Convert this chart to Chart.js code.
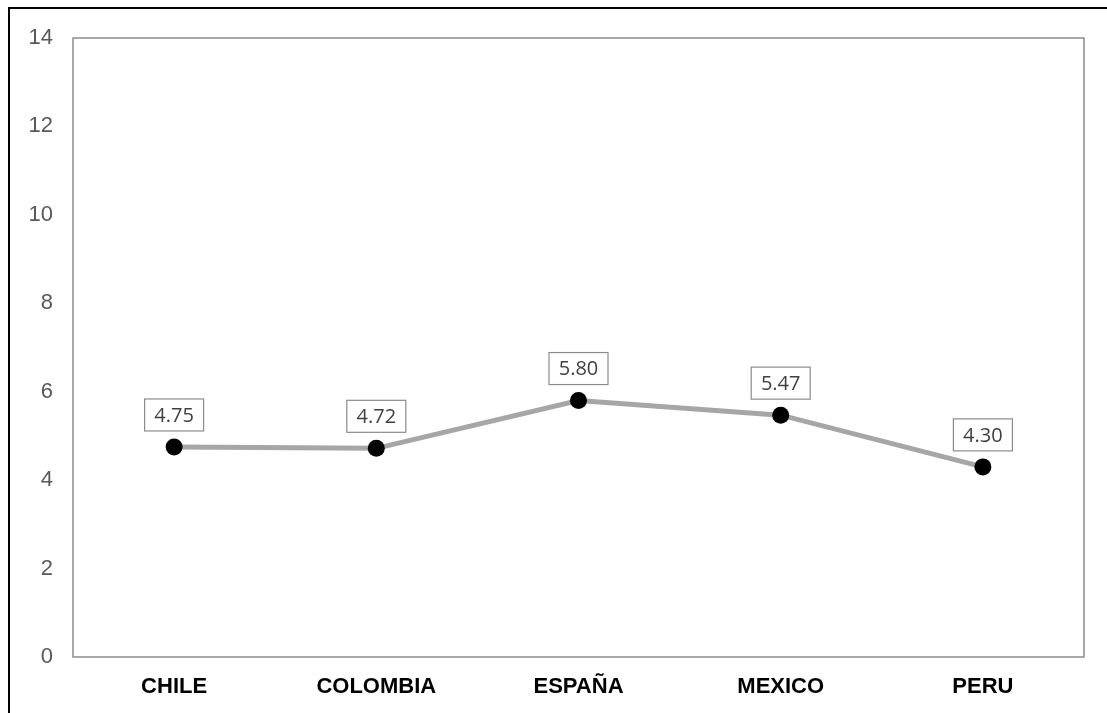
<!DOCTYPE html>
<html>
<head>
<meta charset="utf-8">
<script src="https://cdn.jsdelivr.net/npm/chart.js@4"></script>
<style>
  html, body { margin: 0; padding: 0; background: #fff; }
  #wrap { position: relative; width: 1107px; height: 713px; }
  #frame { position: absolute; left: 8px; top: 7px; right: 0; bottom: 0;
           border-top: 2px solid #000; border-left: 2px solid #000; }
  canvas { position: absolute; left: 0; top: 0; }
</style>
</head>
<body>
<div id="wrap">
  <div id="frame"></div>
  <canvas id="line-chart" width="1107" height="713"></canvas>
</div>
<script>
// paises y valores
var paises = ["CHILE", "COLOMBIA", "ESPAÑA", "MEXICO", "PERU"];
var valores = [4.75, 4.72, 5.80, 5.47, 4.30];
var yTicks = [0, 2, 4, 6, 8, 10, 12, 14];

// marco gris alrededor del area de grafico
var plotBorder = {
  id: "plotBorder",
  afterDraw: function (chart) {
    var a = chart.chartArea, c = chart.ctx;
    c.save();
    c.strokeStyle = "#8c8c8c";
    c.lineWidth = 1.5;
    c.strokeRect(a.left, a.top, a.right - a.left, a.bottom - a.top);
    c.restore();
  },
};

// etiquetas con caja encima de cada punto
var boxLabels = {
  id: "boxLabels",
  afterDatasetsDraw: function (chart) {
    var c = chart.ctx;
    var meta = chart.getDatasetMeta(0);
    c.save();
    c.font = "20px 'Open Sans'";
    c.textAlign = "center";
    c.textBaseline = "middle";
    meta.data.forEach(function (pt, i) {
      var txt = valores[i].toFixed(2);
      var w = 59, h = 32;
      var cx = pt.x, cy = pt.y - 32;
      c.fillStyle = "#fff";
      c.fillRect(cx - w / 2, cy - h / 2, w, h);
      c.strokeStyle = "#8c8c8c";
      c.lineWidth = 1.2;
      c.strokeRect(cx - w / 2, cy - h / 2, w, h);
      c.fillStyle = "#404040";
      c.fillText(txt, cx, cy + 1);
    });
    c.restore();
  },
};

var ctx = document.getElementById("line-chart").getContext("2d");
var chart = new Chart(ctx, {
  type: "line",
  data: {
    labels: paises,
    datasets: [
      {
        data: valores,
        borderColor: "#a6a6a6",
        borderWidth: 5,
        pointBackgroundColor: "#000",
        pointBorderColor: "#000",
        pointRadius: 8.5,
        pointBorderWidth: 0,
        tension: 0,
      },
    ],
  },
  options: {
    responsive: false,
    animation: false,
    layout: { padding: { top: 38, right: 23, left: 0, bottom: 0 } },
    plugins: { legend: { display: false }, tooltip: { enabled: false } },
    scales: {
      x: {
        offset: true,
        grid: { display: false, drawTicks: false },
        border: { display: false },
        ticks: {
          padding: 17,
          color: "#000",
          font: { family: "'Liberation Sans', Arial", size: 22, weight: "bold" },
        },
        afterFit: function (s) { s.height = 56; },
      },
      y: {
        min: 0,
        max: 14,
        grid: { display: false, drawTicks: false },
        border: { display: false },
        afterBuildTicks: function (s) {
          s.ticks = yTicks.map(function (v) { return { value: v }; });
        },
        ticks: {
          padding: 20,
          color: "#595959",
          font: { family: "'Liberation Sans', Arial", size: 22 },
        },
        afterFit: function (s) { s.width = 73; },
      },
    },
  },
  plugins: [plotBorder, boxLabels],
});
</script>
</body>
</html>
